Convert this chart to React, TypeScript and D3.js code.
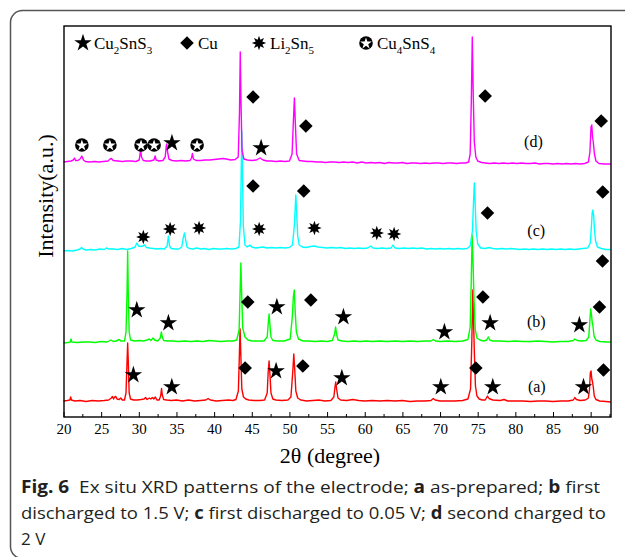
import { useEffect, useRef } from 'react'
import * as d3 from 'd3'

type Pt = [number, number]
type Mk = [number, number, string]

const W = 625
const H = 557
const FRAME = { left: 64, right: 611, top: 26, bottom: 417 }

// 2θ axis
const thetaDomain: [number, number] = [20, 92.7]
const majorTicks = [20, 25, 30, 35, 40, 45, 50, 55, 60, 65, 70, 75, 80, 85, 90]
const minorTicks = [22.5, 27.5, 32.5, 37.5, 42.5, 47.5, 52.5, 57.5, 62.5, 67.5, 72.5, 77.5, 82.5, 87.5, 92.5]

// intensity (a.u.) — offsets stack the patterns
const intensityDomain: [number, number] = [0, 391]
const seriesNames = ['(a)', '(b)', '(c)', '(d)']
const seriesColors = ['#ff0000', '#00ff00', '#00ffff', '#ff00ff']
const seriesOffsets = [16, 75, 166, 255]
const seriesLabelPos: Pt[] = [[82.85, 9], [82.77, 15], [82.77, 15], [82.4, 15]]

// (a) as-prepared
const patternA: Pt[] = [
  [20, 0], [20.5, 0.5], [20.85, 1], [20.95, 4], [21.05, 1], [21.5, 0], [22.2, 0.5], [23, -0.5], [23.8, 0.5], [24.6, 0],
  [25.4, 0.5], [26, 1], [26.35, 3], [26.5, 4.5], [26.65, 2], [26.8, 4], [26.95, 4.5], [27.1, 2], [27.4, 1.5], [27.6, 3],
  [27.8, 1], [28.1, 1], [28.3, 8], [28.44, 40], [28.52, 58], [28.6, 40], [28.72, 8], [28.9, 2], [29.3, 1], [29.8, 1],
  [30.3, 1.5], [30.7, 2], [30.9, 3.5], [31.1, 1.5], [31.4, 3], [31.6, 2], [31.8, 3.5], [32, 2], [32.2, 4], [32.4, 1],
  [32.7, 1], [32.9, 5], [33.02, 12.5], [33.12, 6], [33.3, 1.5], [33.7, 1], [34.3, 0.5], [35, 1], [35.8, 0], [36.6, 1],
  [37.4, 0], [38.2, 0.5], [38.9, 1], [39.2, 2.5], [39.5, 1], [40.3, 0], [41.1, 0.5], [41.9, 1], [42.5, 0.5], [42.9, 1.5],
  [43.22, 10], [43.35, 45], [43.45, 72], [43.55, 45], [43.68, 12], [43.9, 4], [44.2, 2], [44.6, 1], [45.3, 0.5], [46.1, 0.5],
  [46.7, 1], [47.05, 8], [47.17, 28], [47.3, 40], [47.42, 26], [47.55, 8], [47.8, 2], [48.2, 1], [49, 0.5], [49.8, 1],
  [50.2, 4], [50.45, 30], [50.58, 47], [50.7, 32], [50.85, 10], [51.1, 3], [51.5, 1], [52.3, 0], [53.1, 0.5], [53.9, 1],
  [54.7, 0], [55.5, 0.5], [55.9, 4], [56.05, 14], [56.15, 19], [56.27, 12], [56.45, 3], [56.8, 1], [57.6, 0.5], [58.4, 1.5],
  [59.2, 0.5], [60, 0], [61, 0.5], [62, 0], [63, 0.5], [64, 0], [65, 0.5], [66, -0.5], [67, 0], [68, 0],
  [68.8, 0.5], [69.1, 2.5], [69.35, 1], [70, 0], [71, 0], [72, 0], [73, 0.5], [73.7, 2], [74.05, 12], [74.22, 60],
  [74.35, 111], [74.45, 80], [74.55, 50], [74.7, 15], [74.9, 5], [75.2, 2], [75.6, 1], [76.0, 1], [76.3, 5], [76.5, 2.5],
  [77, 1], [78, 0.5], [78.5, 1.5], [79, 0], [80, 0], [81, 0], [82, -0.5], [83, 0], [84, 0], [85, -0.5],
  [86, 0], [87, 0], [87.7, 1], [87.9, 3.5], [88.1, 1.5], [88.6, 0.5], [89.3, 1], [89.7, 3], [89.85, 12], [89.95, 28],
  [90.05, 30], [90.15, 22], [90.25, 19], [90.33, 15], [90.48, 5], [90.7, 1.5], [91.2, 0], [92, -0.5], [92.7, -1],
]

// (b) first discharged to 1.5 V
const patternB: Pt[] = [
  [20, -1], [20.6, -0.5], [20.9, 0], [21, 3], [21.1, 0], [21.8, -0.5], [22.6, 0], [23.4, 0], [24.2, -0.5], [25, 0.5],
  [25.8, 0], [26.3, 2], [26.6, 0.5], [27, 1], [27.4, 2.5], [27.6, 1], [28.1, 1], [28.3, 10], [28.44, 50], [28.52, 91],
  [28.6, 50], [28.72, 10], [28.9, 2], [29.4, 1], [30, 1.5], [30.6, 1], [31.1, 2], [31.4, 3], [31.6, 1.5], [31.9, 4],
  [32.1, 2], [32.5, 1], [32.85, 4], [33, 10], [33.12, 5], [33.3, 1.5], [33.8, 1], [34.5, 1], [35.3, 0.5], [36.1, 1],
  [36.9, 0.5], [37.7, 1], [38.5, 0.5], [39.3, 1.5], [40.1, 1], [40.9, 0.5], [41.7, 1], [42.5, 1], [43, 2], [43.32, 12],
  [43.45, 50], [43.55, 79], [43.65, 50], [43.8, 14], [44.1, 5], [44.5, 2], [45, 1], [45.8, 1], [46.6, 1], [47.05, 5],
  [47.2, 20], [47.3, 28], [47.4, 18], [47.55, 5], [47.8, 1.5], [48.5, 1], [49.3, 1], [50.1, 3], [50.38, 25], [50.52, 45],
  [50.64, 52], [50.77, 30], [50.92, 10], [51.2, 3], [51.8, 1], [52.6, 1], [53.4, 0.5], [54.2, 1], [55, 0.5], [55.7, 1.5],
  [56.0, 8], [56.13, 15], [56.26, 8], [56.45, 2], [57, 1], [57.8, 0.5], [58.6, 1], [59.4, 0.5], [60.2, 1], [61, 0.5],
  [62, 1], [63, 0.5], [64, 1], [65, 0.5], [66, 1], [67, 0.5], [68, 1], [68.8, 1], [69.1, 2.5], [69.4, 1],
  [70, 0.5], [71, 1], [72, 0.5], [73, 1], [73.7, 2.5], [74.0, 15], [74.14, 60], [74.26, 107], [74.38, 80], [74.5, 45],
  [74.68, 12], [74.9, 4], [75.3, 2], [75.8, 1], [76.2, 2], [76.4, 5], [76.6, 2], [77, 1], [78, 1], [79, 0.5],
  [80, 1], [81, 0.5], [82, 0.5], [83, 1], [84, 0.5], [85, 0], [86, 0.5], [87, 0.5], [87.7, 1.5], [87.9, 3],
  [88.2, 1.5], [88.8, 1], [89.4, 1.5], [89.75, 5], [89.9, 22], [90.0, 33], [90.1, 28], [90.2, 20], [90.3, 16], [90.45, 6],
  [90.7, 2], [91.2, 0.5], [92, 0], [92.7, 0],
]

// (c) first discharged to 0.05 V
const patternC: Pt[] = [
  [20, 0], [20.6, 0.5], [21.2, 0], [21.8, 1], [22.2, 2], [22.4, 3.5], [22.6, 2], [23, 1], [23.6, 1.5], [24.2, 1],
  [24.8, 2], [25.4, 1.5], [25.7, 3], [26, 2], [26.6, 2], [27.2, 1.5], [27.8, 2.5], [28.4, 1.5], [29, 2.5], [29.5, 4],
  [29.75, 8], [29.95, 5], [30.2, 4.5], [30.5, 5], [30.8, 6], [31, 3.5], [31.4, 3], [31.9, 2.5], [32.4, 2], [32.9, 2.5],
  [33.4, 2], [33.75, 5], [33.93, 15], [34.08, 5], [34.3, 2.5], [34.8, 2], [35.3, 2], [35.7, 4], [35.9, 13], [36.06, 18],
  [36.2, 12], [36.4, 4], [36.7, 2.5], [37.2, 2], [37.7, 3], [38.2, 2], [38.7, 2.5], [39.3, 1.5], [39.9, 2.5], [40.5, 2],
  [41.1, 2], [41.7, 2.5], [42.3, 2], [42.9, 2.5], [43.3, 4], [43.5, 30], [43.6, 80], [43.68, 120], [43.76, 80], [43.88, 25],
  [44.1, 6], [44.4, 4], [44.75, 6], [45, 4], [45.5, 3], [46, 3.5], [46.5, 4], [47, 3], [47.6, 3.5], [48.2, 3],
  [48.8, 3.5], [49.4, 3], [50, 3.5], [50.4, 6], [50.65, 25], [50.78, 45], [50.85, 56], [50.95, 40], [51.1, 15], [51.3, 6],
  [51.7, 4], [52.2, 3.5], [52.8, 4.5], [53.3, 5], [53.8, 4], [54.4, 3.5], [55, 3], [55.6, 3.5], [56.2, 3], [56.8, 3.5],
  [57.4, 2.5], [58, 3], [58.6, 2.5], [59.2, 3], [59.8, 2.5], [60.4, 3], [60.8, 5], [61.1, 3], [61.7, 2.5], [62.3, 3],
  [62.9, 2.5], [63.5, 3], [63.75, 6], [64, 3], [64.6, 2.5], [65.2, 3], [65.8, 2.5], [66.4, 3], [67, 2.5], [67.6, 3],
  [68.2, 2], [68.8, 2.5], [69.4, 2], [70, 2.5], [70.6, 2], [71.2, 2.5], [71.8, 2], [72.4, 2.5], [73, 2], [73.6, 2.5],
  [74, 5], [74.3, 20], [74.45, 50], [74.55, 68], [74.65, 50], [74.8, 20], [75, 7], [75.4, 3], [76, 2.5], [76.5, 3.5],
  [77, 2.5], [77.6, 2], [78.2, 2.5], [78.8, 2], [79.4, 2.5], [80, 2], [80.6, 1.5], [81.2, 2], [81.8, 1.5], [82.4, 2],
  [83, 1.5], [83.6, 2], [84.2, 1.5], [84.8, 2], [85.4, 1.5], [86, 2], [86.6, 1.5], [87.2, 2], [87.8, 1.5], [88.4, 2],
  [89, 2.5], [89.6, 3], [89.95, 8], [90.1, 25], [90.2, 38], [90.3, 41], [90.4, 35], [90.5, 22], [90.65, 10], [90.9, 4],
  [91.4, 2.5], [92, 1.5], [92.7, 1.5],
]

// (d) second charged to 2 V
const patternD: Pt[] = [
  [20, 0], [20.5, 0.5], [21, 1], [21.3, 2], [21.45, 4], [21.6, 1.5], [21.9, 1.5], [22.2, 3], [22.43, 6], [22.65, 2],
  [22.9, 0.5], [23.5, 0], [24.1, 0.5], [24.7, 0], [25.3, 0.5], [25.9, 1], [26.2, 3], [26.35, 3.5], [26.6, 1.5], [27.2, 1],
  [27.8, 0.5], [28.4, 1], [29, 1], [29.6, 0.5], [30.05, 2], [30.2, 10], [30.26, 12], [30.35, 5], [30.6, 1.5], [31, 1],
  [31.5, 1], [32, 2], [32.17, 6], [32.3, 2], [32.7, 1], [33.2, 1.5], [33.5, 5], [33.65, 16], [33.72, 18], [33.82, 10],
  [34, 3], [34.4, 1.5], [35, 1], [35.6, 1.5], [36.2, 1], [36.8, 1.5], [37, 4], [37.12, 8.5], [37.25, 3], [37.6, 1.5],
  [38.2, 1.5], [38.8, 2], [39.4, 2], [40, 2.5], [40.6, 3], [41.2, 3.5], [41.6, 3], [42.2, 2], [42.8, 2.5], [43.2, 5],
  [43.37, 50], [43.47, 110], [43.57, 60], [43.7, 12], [43.95, 3], [44.4, 2], [45, 1.5], [45.6, 2], [46.1, 4], [46.5, 2],
  [47, 1], [47.6, 1], [48.2, 0.5], [48.8, 1], [49.4, 0.5], [50, 1], [50.35, 8], [50.55, 45], [50.66, 64], [50.78, 40],
  [50.95, 8], [51.3, 1.5], [51.8, 1], [52.4, 0.5], [53, 0.5], [53.6, 0], [54.2, 0], [54.8, -0.5], [55.4, 0], [56, 0],
  [56.6, -0.5], [57.2, 0], [57.8, -0.5], [58.4, 0], [59, -1], [59.6, 0], [60.2, -1], [60.8, -0.5], [61.4, -1], [62, -0.5],
  [62.6, -1.5], [63.2, -0.5], [63.8, -1], [64.4, -1], [65, -0.5], [65.6, -1.5], [66.2, -1], [66.8, -1], [67.4, -1.5], [68, -1],
  [68.6, -1.5], [69.2, -1], [69.8, -1], [70.4, -1.5], [71, -1], [71.6, -1], [72.2, -1.5], [72.8, -1], [73.4, -1], [73.8, 0],
  [74, 8], [74.15, 60], [74.28, 125], [74.4, 70], [74.55, 20], [74.75, 5], [75, 1], [75.5, -0.5], [76, -1], [76.6, -1.5],
  [77.2, -1], [77.8, -1.5], [78.4, -1], [79, -1.5], [79.6, -1], [80.2, -1.5], [80.8, -1], [81.4, -1.5], [82, -1.5], [82.6, -1],
  [83.2, -2], [83.8, -1.5], [84.4, -1.5], [85, -2], [85.6, -1.5], [86.2, -2], [86.8, -1.5], [87.4, -2], [88, -1.5], [88.6, -2],
  [89.2, -1.5], [89.7, 0], [89.9, 10], [90.05, 35], [90.15, 37], [90.25, 25], [90.35, 20], [90.5, 8], [90.7, 1], [91.1, -1.5],
  [91.8, -2], [92.7, -2],
]

// phase markers: [2θ, height above the pattern's baseline, phase]
const markersA: Mk[] = [
  [29.28, 26, 'star'], [34.38, 14, 'star'], [44.12, 33, 'diamond'], [48.23, 30, 'star'], [51.78, 35, 'diamond'],
  [56.96, 23, 'star'], [70.1, 14, 'star'], [74.75, 33, 'diamond'], [77.0, 14, 'star'], [89.05, 14, 'star'], [91.7, 31, 'diamond'],
]
const markersB: Mk[] = [
  [29.73, 32, 'star'], [33.93, 19, 'star'], [44.47, 40, 'diamond'], [48.33, 35, 'star'], [52.84, 42, 'diamond'],
  [57.17, 25, 'star'], [70.58, 10, 'star'], [75.69, 45, 'diamond'], [76.65, 19, 'star'], [88.5, 17, 'star'],
  [91.17, 35, 'diamond'], [91.57, 81, 'diamond'],
]
const markersC: Mk[] = [
  [30.6, 14, 'burst'], [34.16, 22, 'burst'], [38.0, 23, 'burst'], [45.98, 22, 'burst'], [53.32, 23, 'burst'],
  [61.6, 18, 'burst'], [63.9, 17, 'burst'], [45.17, 65, 'diamond'], [51.9, 60, 'diamond'], [76.3, 38, 'diamond'],
  [91.6, 59, 'diamond'],
]
const markersD: Mk[] = [
  [22.44, 17, 'cstar'], [26.16, 17, 'cstar'], [30.3, 17, 'cstar'], [32.03, 17, 'cstar'], [37.74, 17, 'cstar'],
  [34.4, 19, 'star'], [45.17, 65, 'diamond'], [46.24, 14, 'star'], [52.18, 36, 'diamond'], [75.99, 66, 'diamond'],
  [91.4, 41, 'diamond'],
]

const patterns = [patternA, patternB, patternC, patternD]
const markerSets = [markersA, markersB, markersC, markersD]

// legend: phase glyph + formula (text, isSubscript)
const legendShapes = ['star', 'diamond', 'burst', 'cstar']
const legendFormulas: [string, boolean][][] = [
  [['Cu', false], ['2', true], ['SnS', false], ['3', true]],
  [['Cu', false]],
  [['Li', false], ['2', true], ['Sn', false], ['5', true]],
  [['Cu', false], ['4', true], ['SnS', false], ['4', true]],
]
const legendX = [83, 187, 259, 366]

const SERIF = '"Liberation Serif", "Times New Roman", serif'
const SANS = '"Open Sans", "Noto Sans", sans-serif'

function drawGlyph(g: d3.Selection<SVGGElement, unknown, null, undefined>, shape: string, cx: number, cy: number) {
  if (shape === 'star') {
    g.append('path').attr('d', d3.symbol(d3.symbolStar, 95)()!)
      .attr('transform', `translate(${cx},${cy})`).attr('fill', '#000')
  } else if (shape === 'diamond') {
    g.append('path').attr('d', d3.symbol(d3.symbolSquare, 92)()!)
      .attr('transform', `translate(${cx},${cy}) rotate(45)`).attr('fill', '#000')
  } else if (shape === 'burst') {
    const burst = d3.lineRadial<number>()
      .angle(i => i * Math.PI / 8)
      .radius(i => (i % 2 ? 3.6 : 7.2))
      .curve(d3.curveLinearClosed)
    g.append('path').attr('d', burst(d3.range(16))!)
      .attr('transform', `translate(${cx},${cy})`).attr('fill', '#000')
  } else {
    g.append('circle').attr('cx', cx).attr('cy', cy).attr('r', 6.8).attr('fill', '#000')
    g.append('path').attr('d', d3.symbol(d3.symbolStar, 42)()!)
      .attr('transform', `translate(${cx},${cy + 0.5})`).attr('fill', '#fff')
  }
}

export default function App() {
  const svgRef = useRef<SVGSVGElement>(null)

  useEffect(() => {
    if (!svgRef.current) return
    const svg = d3.select(svgRef.current)
    svg.selectAll('*').remove()

    const x = d3.scaleLinear().domain(thetaDomain).range([63.5, FRAME.right])
    const y = d3.scaleLinear().domain(intensityDomain).range([FRAME.bottom, FRAME.top])

    // outer card border
    svg.append('rect')
      .attr('x', 10.5).attr('y', 10.5).attr('width', 700).attr('height', 548).attr('rx', 12)
      .attr('fill', 'none').attr('stroke', '#555').attr('stroke-width', 1.5)

    const g = svg.append('g') as unknown as d3.Selection<SVGGElement, unknown, null, undefined>

    // patterns
    patterns.forEach((data, i) => {
      const off = seriesOffsets[i]
      const line = d3.line<Pt>().x(d => x(d[0])).y(d => y(d[1] + off))
      g.append('path').attr('d', line(data)!)
        .attr('fill', 'none').attr('stroke', seriesColors[i]).attr('stroke-width', 1.4)
        .attr('stroke-linejoin', 'round')
    })

    // markers
    markerSets.forEach((set, i) => {
      set.forEach(([t, h, shape]) => drawGlyph(g, shape, x(t), y(h + seriesOffsets[i])))
    })

    // series labels
    seriesNames.forEach((name, i) => {
      const [t, h] = seriesLabelPos[i]
      g.append('text').attr('x', x(t)).attr('y', y(h + seriesOffsets[i]))
        .attr('text-anchor', 'middle').attr('font-family', SERIF).attr('font-size', 16)
        .text(name)
    })

    // legend
    legendShapes.forEach((shape, i) => {
      drawGlyph(g, shape, legendX[i], 43)
      const t = g.append('text').attr('x', legendX[i] + 11).attr('y', 49)
        .attr('font-family', SERIF).attr('font-size', 17)
      let sub = false
      legendFormulas[i].forEach(([s, isSub]) => {
        const dy = isSub && !sub ? 5 : !isSub && sub ? -5 : 0
        t.append('tspan').attr('dy', dy).attr('font-size', isSub ? 11 : 17).text(s)
        sub = isSub
      })
    })

    // axes
    const ax = g.append('g').attr('transform', `translate(0,${FRAME.bottom})`)
      .call(d3.axisBottom(x).tickValues(majorTicks).tickSize(-5).tickPadding(6).tickFormat(d3.format('d')))
    ax.select('.domain').remove()
    ax.selectAll('.tick line').attr('stroke', '#000').attr('stroke-width', 1)
    ax.selectAll('text').attr('font-family', SERIF).attr('font-size', 15).attr('fill', '#000')
    const axm = g.append('g').attr('transform', `translate(0,${FRAME.bottom})`)
      .call(d3.axisBottom(x).tickValues(minorTicks.filter(v => v < thetaDomain[1])).tickSize(-3).tickFormat(() => ''))
    axm.select('.domain').remove()
    axm.selectAll('.tick line').attr('stroke', '#000').attr('stroke-width', 1)

    // frame
    g.append('rect')
      .attr('x', FRAME.left).attr('y', FRAME.top)
      .attr('width', FRAME.right - FRAME.left).attr('height', FRAME.bottom - FRAME.top)
      .attr('fill', 'none').attr('stroke', '#000').attr('stroke-width', 1.4)

    // axis titles
    g.append('text').attr('x', 330).attr('y', 463).attr('text-anchor', 'middle')
      .attr('font-family', SERIF).attr('font-size', 22).text('2θ (degree)')
    g.append('text').attr('transform', 'translate(53,196) rotate(-90)').attr('text-anchor', 'middle')
      .attr('font-family', SERIF).attr('font-size', 22).text('Intensity(a.u.)')

    // caption
    const cap: [string, boolean][][] = [
      [['Fig. 6', true], ['  Ex situ XRD patterns of the electrode; ', false], ['a', true], [' as-prepared; ', false], ['b', true], [' first', false]],
      [['discharged to 1.5 V; ', false], ['c', true], [' first discharged to 0.05 V; ', false], ['d', true], [' second charged to', false]],
      [['2 V', false]],
    ]
    const capLen = [579, 585, 0]
    const capY = [493, 519, 545]
    cap.forEach((parts, i) => {
      const t = g.append('text').attr('x', 21).attr('y', capY[i])
        .attr('font-family', SANS).attr('font-size', 17).attr('fill', '#231f20')
        .attr('xml:space', 'preserve')
      if (capLen[i]) t.attr('textLength', capLen[i]).attr('lengthAdjust', 'spacingAndGlyphs')
      parts.forEach(([s, b]) => t.append('tspan').attr('font-weight', b ? 700 : 400).text(s))
    })
  }, [])

  return (
    <div style={{ position: 'absolute', left: 0, top: 0, width: W, height: H, background: '#fff' }}>
      <svg ref={svgRef} width={W} height={H} style={{ display: 'block' }} />
    </div>
  )
}
